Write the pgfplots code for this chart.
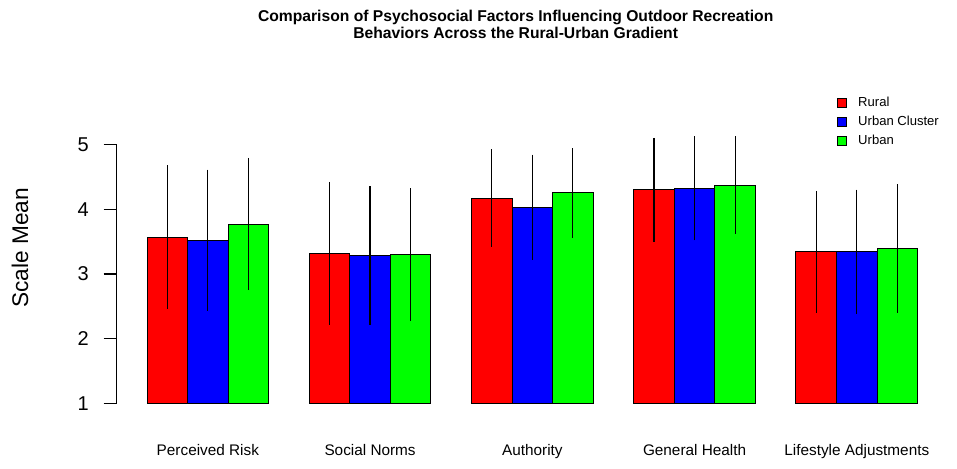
\documentclass[border=0pt]{standalone}
\usepackage{pgfplots}
\pgfplotsset{compat=1.18}
\usepackage{pgfplotstable}
\usepackage{fontspec}
\setmainfont{Liberation Sans}

% x = bar centre (each bar one unit wide), m = mean, sd = error half-length
\pgfplotstableread{
x    m     sd
1.5  3.57  1.11
5.5  3.32  1.10
9.5  4.17  0.75
13.5 4.30  0.80
17.5 3.34  0.94
}\rural
\pgfplotstableread{
x    m     sd
2.5  3.52  1.09
6.5  3.28  1.07
10.5 4.03  0.81
14.5 4.32  0.80
18.5 3.34  0.96
}\urbancluster
\pgfplotstableread{
x    m     sd
3.5  3.77  1.02
7.5  3.30  1.02
11.5 4.25  0.69
15.5 4.37  0.75
19.5 3.39  0.99
}\urban

\definecolor{rred}{RGB}{255,0,0}
\definecolor{rblue}{RGB}{0,0,255}
\definecolor{rgreen}{RGB}{0,255,0}

\begin{document}
\begin{tikzpicture}
\path[use as bounding box] (-87.15pt,-40.425pt) rectangle (630.6pt,310.575pt);
\begin{axis}[
  at={(0,0)}, anchor=south west,
  scale only axis,
  width=624.2pt, height=210.15pt,
  xmin=0.24, xmax=20.76,
  ymin=-0.16, ymax=4.16,
  clip=false,
  axis line style={draw=none},
  xtick={2.5,6.5,10.5,14.5,18.5},
  xticklabels={Perceived Risk,Social Norms,Authority,General Health,Lifestyle Adjustments},
  x tick style={draw=none},
  x tick label style={anchor=base, yshift=-21.2pt, font=\fontsize{11.5}{13}\selectfont},
  ytick={0,1,2,3,4},
  yticklabels={1,2,3,4,5},
  ytick pos=left,
  tick align=outside,
  major tick length=9.5pt,
  y tick style={black, line width=0.8pt},
  y tick label style={anchor=east, xshift=-7.5pt, font=\fontsize{15}{17}\selectfont},
  /pgf/number format/assume math mode=true,
  ylabel={Scale Mean},
  every axis y label/.style={at={(rel axis cs:-0.1156,0.593)}, rotate=90, anchor=center, font=\fontsize{17}{19}\selectfont},
  title={Comparison of Psychosocial Factors Influencing Outdoor Recreation\\Behaviors Across the Rural-Urban Gradient},
  title style={at={(rel axis cs:0.480,1.3616)}, anchor=center, align=center, font=\bfseries\fontsize{11.75}{12.75}\selectfont},
  legend style={draw=none, fill=none, at={(rel axis cs:0.866,1.142)}, anchor=north west,
    font=\fontsize{9.8}{11}\selectfont, row sep=1.6pt, inner sep=0pt},
  legend cell align=left,
  legend image code/.code={\draw[#1, draw=black, line width=0.5pt] (0pt,-3.4pt) rectangle (6.8pt,3.4pt); \path[draw=none, fill=none] (0pt,0pt) -- (13.5pt,0pt);},
  every axis plot/.append style={ybar, bar width=1, bar shift=0pt, draw=black, line width=0.75pt,
    error bars/y dir=both, error bars/y explicit, error bars/error mark=none,
    error bars/error bar style={black, line width=0.9pt}},
]
\addplot[fill=rred] table[x=x, y expr=\thisrow{m}-1, y error=sd] {\rural};
\addlegendentry{Rural}
\addplot[fill=rblue] table[x=x, y expr=\thisrow{m}-1, y error=sd] {\urbancluster};
\addlegendentry{Urban Cluster}
\addplot[fill=rgreen] table[x=x, y expr=\thisrow{m}-1, y error=sd] {\urban};
\addlegendentry{Urban}
\draw[black, line width=0.8pt] (axis cs:0.24,0) -- (axis cs:0.24,4);
\end{axis}
\end{tikzpicture}
\end{document}
